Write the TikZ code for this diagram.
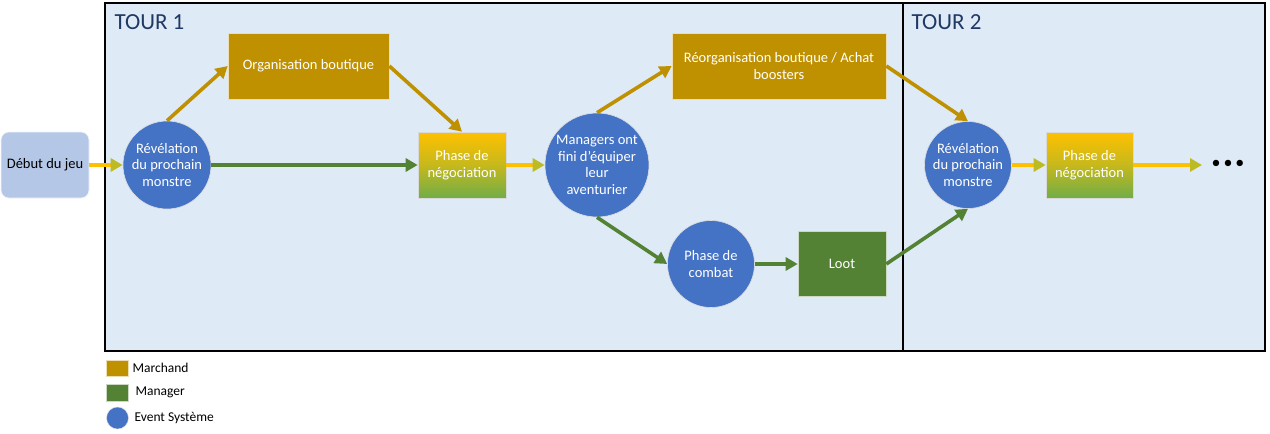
\documentclass[tikz,border=0pt]{standalone}
\usepackage{fontspec}
\setmainfont{Carlito}
\usetikzlibrary{arrows.meta,shapes.geometric}
\definecolor{framebg}{HTML}{DEEAF6}
\definecolor{navy}{HTML}{1F3864}
\definecolor{gold}{HTML}{BF9000}
\definecolor{mgreen}{HTML}{548235}
\definecolor{evblue}{HTML}{4472C4}
\definecolor{startbg}{HTML}{B4C7E7}
\definecolor{yel}{HTML}{FFC000}
\definecolor{lgreen}{HTML}{70AD47}
\definecolor{ygreen}{HTML}{BDBB24}
\tikzset{
  lbl/.style={font=\fontsize{14.5}{16.5}\selectfont, text=white, align=center},
  evt/.style={circle, fill=evblue, draw=white!75!gray, line width=0.6pt, lbl, inner sep=0pt},
  merch/.style={rectangle, fill=gold, draw=white!70!gold, line width=0.6pt, lbl, inner sep=0pt},
  mgr/.style={rectangle, fill=mgreen, draw=white!70!mgreen, line width=0.6pt, lbl, inner sep=0pt},
  nego/.style={rectangle, top color=yel, bottom color=lgreen, middle color=yel!60!lgreen, draw=white!70!gray, line width=0.6pt, lbl, inner sep=0pt, minimum width=88pt, minimum height=66pt},
  arr/.style={line width=3.6pt, -{Triangle[length=12pt,width=13pt]}},
  garr/.style={arr, draw=gold},
  marr/.style={arr, draw=mgreen},
  yarr/.style={line width=3.6pt, draw=yel, -{Triangle[length=12pt,width=13pt,fill=ygreen,color=ygreen]}},
  tour/.style={font=\fontsize{23}{26}\selectfont, text=navy, anchor=west},
  leg/.style={font=\fontsize{13.5}{15}\selectfont, anchor=west, text=black}
}
\begin{document}
\begin{tikzpicture}[x=1pt,y=-1pt]
\useasboundingbox (0,0) rectangle (1270,434);
\fill[white] (0,0) rectangle (1270,434);
% frames
\draw[line width=1.5pt, fill=framebg] (105,3) rectangle (903,351);
\draw[line width=1.5pt, fill=framebg] (903,3) rectangle (1265,351);
\node[tour] (t1) at (111,22) {TOUR 1};
\node[tour] (t2) at (908,22) {TOUR 2};
% nodes
\node[rectangle, rounded corners=8pt, fill=startbg, draw=white!80!startbg, line width=0.6pt, minimum width=88pt, minimum height=66pt, font=\fontsize{14.5}{16.5}\selectfont] (start) at (45,165) {Début du jeu};
\node[evt, minimum size=88pt] (rev1) at (167,165) {Révélation\\du prochain\\monstre};
\node[merch, minimum width=161pt, minimum height=66pt] (org) at (308.5,66) {Organisation boutique};
\node[nego] (neg1) at (462,165) {Phase de\\négociation};
\node[evt, minimum size=104pt] (mgrs) at (597,165) {Managers ont\\fini d’équiper\\leur\\aventurier};
\node[merch, minimum width=214pt, minimum height=66pt] (reorg) at (779,66) {Réorganisation boutique / Achat\\boosters};
\node[evt, minimum size=87pt] (combat) at (711,264) {Phase de\\combat};
\node[mgr, minimum width=88pt, minimum height=65pt] (loot) at (842,264) {Loot};
\node[evt, minimum size=87pt] (rev2) at (968,165) {Révélation\\du prochain\\monstre};
\node[nego, minimum width=87pt] (neg2) at (1089.5,165) {Phase de\\négociation};
\node[font=\fontsize{18}{20}\selectfont, inner sep=0pt] (dots) at (1228,164) {\textbullet\,\textbullet\,\textbullet};
\coordinate (dotsin) at (1202,165);
% arrows
\draw[yarr] (start.east) -- (rev1.west);
\draw[garr] (rev1.north) -- (org.west);
\draw[marr] (rev1.east) -- (neg1.west);
\draw[garr] (org.east) -- (neg1.north);
\draw[yarr] (neg1.east) -- (mgrs.west);
\draw[garr] (mgrs.north) -- (reorg.west);
\draw[marr] (mgrs.south) -- (combat.west);
\draw[marr] (combat.east) -- (loot.west);
\draw[garr] (reorg.east) -- (rev2.north);
\draw[marr] (loot.east) -- (rev2.south);
\draw[yarr] (rev2.east) -- (neg2.west);
\draw[yarr] (neg2.east) -- (dotsin);
% legend
\node[rectangle, fill=gold, draw=white!70!gold, minimum width=22pt, minimum height=16pt, inner sep=0pt] (lm) at (117,368) {};
\node[leg] (lmt) at (129,368) {Marchand};
\node[rectangle, fill=mgreen, draw=white!70!mgreen, minimum width=22pt, minimum height=17pt, inner sep=0pt] (lg) at (117,392.5) {};
\node[leg] (lgt) at (132,392) {Manager};
\node[ellipse, fill=evblue, draw=white!75!gray, minimum width=22pt, minimum height=22pt, inner sep=0pt] (le) at (117.5,418) {};
\node[leg] (let) at (131,418) {Event Système};
\end{tikzpicture}
\end{document}
